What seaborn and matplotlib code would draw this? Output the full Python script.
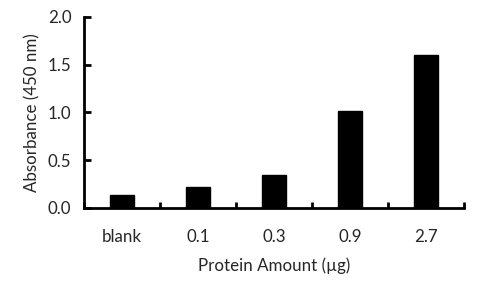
import matplotlib
matplotlib.use("Agg")
import matplotlib.pyplot as plt
import seaborn as sns
import pandas as pd
import numpy as np

categories = ["blank", "0.1", "0.3", "0.9", "2.7"]
values = [0.14, 0.22, 0.34, 1.02, 1.60]
y_ticks = [0.0, 0.5, 1.0, 1.5, 2.0]

sns.set_style("white")
plt.rcParams['font.family'] = ['Lato', 'DejaVu Sans']

df = pd.DataFrame({"cat": categories, "val": values})

fig = plt.figure(figsize=(4.8, 2.88), dpi=100)
ax = fig.add_axes([0.175, 0.278, 0.792, 0.663])
sns.barplot(data=df, x="cat", y="val", color="black", width=0.31,
            saturation=1, ax=ax, edgecolor="black")

ax.set_xlim(-0.5, len(categories) - 0.5)
ax.set_ylim(0, 2.0)
ax.set_yticks(y_ticks)
ax.set_yticklabels([f"{t:.1f}" for t in y_ticks])

fs = 12.2
for s in ["top", "right"]:
    ax.spines[s].set_visible(False)
for s in ["left", "bottom"]:
    ax.spines[s].set_linewidth(2)
    ax.spines[s].set_color("black")

ax.tick_params(axis="y", direction="in", length=5, width=2, colors="black",
               labelcolor="#262626", labelsize=fs, pad=9, left=True)
ax.tick_params(axis="x", which="major", length=0, labelcolor="#262626",
               labelsize=fs, pad=15)
ax.set_xticks(np.arange(-0.5, len(categories), 1.0), minor=True)
ax.tick_params(axis="x", which="minor", direction="in", length=4, width=2,
               colors="black", bottom=True)

ax.set_xlabel("Protein Amount (µg)", fontsize=fs, color="#262626", labelpad=9)
ax.set_ylabel("Absorbance (450 nm)", fontsize=fs, color="#262626", labelpad=5)

fig.savefig("out.png", dpi=100)
